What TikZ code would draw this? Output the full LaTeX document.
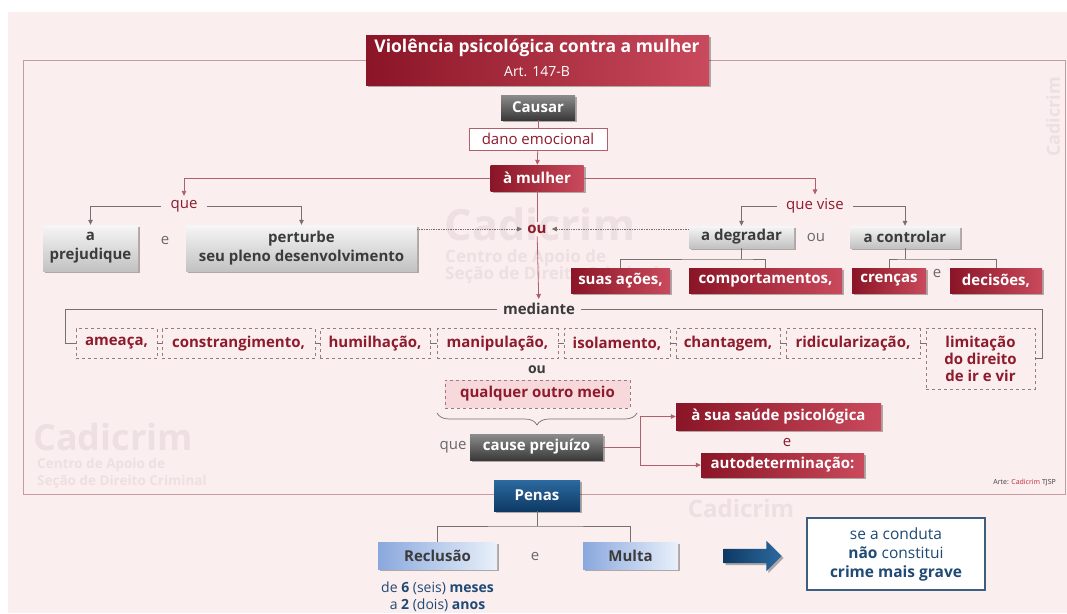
\documentclass[tikz,border=0pt]{standalone}
\usepackage{fontspec}
\setmainfont{Open Sans}
\usetikzlibrary{arrows.meta,shadows,shapes.arrows,decorations.pathreplacing}
\definecolor{bg}{HTML}{FBEEEF}
\definecolor{framec}{HTML}{C79A9F}
\definecolor{redD}{HTML}{8A1526}
\definecolor{redL}{HTML}{C94A5C}
\definecolor{redT}{HTML}{8E1B2C}
\definecolor{lnR}{HTML}{B0606B}
\definecolor{lnG}{HTML}{767070}
\definecolor{txtG}{HTML}{3B3B3B}
\definecolor{txtL}{HTML}{6A6A6A}
\definecolor{grayT}{HTML}{F6F6F6}
\definecolor{grayB}{HTML}{C2C2C2}
\definecolor{dkT}{HTML}{8C8C8C}
\definecolor{dkB}{HTML}{3A3A3A}
\definecolor{dashc}{HTML}{9A7A7E}
\definecolor{pinkF}{HTML}{F7D8DB}
\definecolor{blueT}{HTML}{2C6AA0}
\definecolor{blueB}{HTML}{0E3A64}
\definecolor{lblueL}{HTML}{8AA8DD}
\definecolor{lblueR}{HTML}{E9F0FA}
\definecolor{navy}{HTML}{1F4A75}
\definecolor{condB}{HTML}{3E5E80}
\definecolor{wm}{HTML}{EEE0E2}
\definecolor{arteR}{HTML}{C0283A}

\newcommand{\fz}[2]{\fontsize{#1}{#2}\selectfont}

\tikzset{
  shad/.style={drop shadow={shadow xshift=2pt,shadow yshift=-2pt,opacity=0.3,fill=black}},
  redbox/.style={shad,left color=redD,right color=redL,text=white,font=\fz{15}{18}\bfseries,inner sep=0pt},
  graybox/.style={shad,top color=grayT,bottom color=grayB,text=txtG,font=\fz{15}{19}\bfseries,inner sep=0pt,align=center},
  darkbox/.style={shad,top color=dkT,bottom color=dkB,text=white,font=\fz{15}{18}\bfseries,inner sep=0pt},
  dbox/.style={draw=dashc,dashed,fill=bg,text=redT,font=\fz{15}{17}\bfseries,inner sep=0pt,align=center},
  lbox/.style={shad,left color=lblueL,right color=lblueR,text=txtG,font=\fz{15}{18}\bfseries,inner sep=0pt},
  plain/.style={inner sep=1pt,text=txtG,font=\fz{15}{18}},
  lr/.style={draw=lnR,line width=0.8pt},
  lg/.style={draw=lnG,line width=0.7pt},
  tip/.style={-{Triangle[length=5pt,width=4.5pt]}},
  wmark/.style={text=wm,inner sep=0pt}
}

\begin{document}
\begin{tikzpicture}[x=1pt,y=-1pt]
\useasboundingbox (0,0) rectangle (1067,613);
\fill[white] (0,0) rectangle (1067,613);
\fill[bg] (8,12) rectangle (1067,613);

% watermarks
\node[wmark,font=\fz{43}{46}\bfseries] (wm1) at (540,224) {Cadicrim};
\node[wmark,anchor=west,font=\fz{17}{19}\bfseries] (wm1b) at (445,258) {Centro de Apoio de};
\node[wmark,anchor=west,font=\fz{17}{19}\bfseries] (wm1c) at (445,275) {Seção de Direito Criminal};
\node[wmark,anchor=west,font=\fz{36}{40}\bfseries] (wm2) at (33,437) {Cadicrim};
\node[wmark,anchor=west,font=\fz{13.5}{15}\bfseries] (wm2b) at (37,465) {Centro de Apoio de};
\node[wmark,anchor=west,font=\fz{13.5}{15}\bfseries] (wm2c) at (37,482) {Seção de Direito Criminal};
\node[wmark,font=\fz{24}{26}\bfseries] (wm3) at (741,508) {Cadicrim};
\node[wmark,rotate=90,font=\fz{18}{20}\bfseries] (wm4) at (1053,117) {Cadicrim};

% frame
\draw[framec,line width=1pt] (23,60) rectangle (1065,494);

% title
\node[shad,left color=redD,right color=redL,minimum width=343pt,minimum height=50pt,inner sep=0pt] (title) at (537.5,60) {};
\node[text=white,font=\fz{17.5}{20}\bfseries,inner sep=0pt] (titleA) at (537,48) {Violência psicológica contra a mulher};
\node[text=white,font=\fz{14}{16},inner sep=0pt] (titleB) at (537,72) {Art. 147-B};

% top column
\node[darkbox,minimum width=74pt,minimum height=25pt] (causar) at (538,107.5) {Causar};
\node[draw=lnR,fill=white,text=redT,font=\fz{15}{18},minimum width=138pt,minimum height=22pt,inner sep=0pt] (dano) at (538,139) {dano emocional};
\node[redbox,minimum width=93pt,minimum height=26pt] (mulher) at (537,178) {à mulher};
\draw[lr] (causar) -- (dano);
\draw[lr,tip] (dano) -- (mulher);

% left branch
\node[plain,text=redT,inner xsep=9pt,inner ysep=4pt] (que1) at (184,206) {que};
\node[graybox,minimum width=95pt,minimum height=46pt] (prej) at (90.5,248) {a\\prejudique};
\node[plain,text=txtL] (e1) at (165,240) {e};
\node[graybox,minimum width=231pt,minimum height=46pt] (pert) at (301.5,248) {perturbe\\seu pleno desenvolvimento};
\draw[lr,tip] (mulher.west) -| (que1.north);
\draw[lg,tip] (que1.west) -| (prej.north);
\draw[lg,tip] (que1.east) -| (pert.north);

% right branch
\node[plain,text=redT,inner xsep=9pt,inner ysep=4pt] (quev) at (815,206) {que vise};
\node[graybox,minimum width=105pt,minimum height=22pt] (degr) at (741.5,237) {a degradar};
\node[plain,text=txtL] (ou2) at (816,237) {ou};
\node[graybox,minimum width=110pt,minimum height=22pt] (ctrl) at (905,237) {a controlar};
\draw[lr,tip] (mulher.east) -| (quev.north);
\draw[lg,tip] (quev.west) -| (degr.north);
\draw[lg,tip] (quev.east) -| (ctrl.north);

% center ou
\node[plain,text=redT,font=\fz{15}{18}\bfseries,inner xsep=5pt,inner ysep=3pt] (ou1) at (537,229) {ou};
\draw[lg,densely dotted,tip] (ou1 -| pert.east) -- (ou1.west);
\draw[lg,densely dotted,tip] (ou1 -| degr.west) -- (ou1.east);
\draw[lr] (mulher) -- (ou1);

% red row
\node[redbox,minimum width=99pt,minimum height=25pt] (acoes) at (620.5,280.5) {suas ações,};
\node[redbox,minimum width=153pt,minimum height=25pt] (comp) at (765.5,280.5) {comportamentos,};
\node[redbox,minimum width=74pt,minimum height=25pt] (cren) at (889,280.5) {crenças};
\node[plain,text=txtL] (e2) at (937,273) {e};
\node[redbox,minimum width=92pt,minimum height=25pt] (deci) at (996,280.5) {decisões,};
\coordinate (j1) at (741.5,259);
\coordinate (j2) at (905,259);
\draw[lg] (degr.south) -- (j1);
\draw[lg] (acoes.north) |- (j1) -| (comp.north);
\draw[lg] (ctrl.south) -- (j2);
\draw[lg] (cren.north) |- (j2) -| (deci.north);

% mediante
\node[plain,font=\fz{15}{18}\bfseries,inner xsep=6pt,inner ysep=4pt] (med) at (539,309) {mediante};
\draw[lr,tip] (ou1) -- (med);

\node[dbox,minimum width=81pt,minimum height=30pt] (d1) at (116.5,343.5) {ameaça,};
\node[dbox,minimum width=153pt,minimum height=30pt] (d2) at (238.5,343.5) {constrangimento,};
\node[dbox,minimum width=110pt,minimum height=30pt] (d3) at (375,343.5) {humilhação,};
\node[dbox,minimum width=121pt,minimum height=30pt] (d4) at (497.5,343.5) {manipulação,};
\node[dbox,minimum width=106pt,minimum height=30pt] (d5) at (617,343.5) {isolamento,};
\node[dbox,minimum width=104pt,minimum height=30pt] (d6) at (728,343.5) {chantagem,};
\node[dbox,minimum width=134pt,minimum height=30pt] (d7) at (853,343.5) {ridicularização,};
\node[dbox,minimum width=109pt,minimum height=61pt] (d8) at (980.5,358.5) {limitação\\do direito\\de ir e vir};
\coordinate (mL) at (65,309);
\coordinate (mR) at (1042,309);
\draw[lg] (med.west) -- (mL) |- (d1.west);
\draw[lg] (med.east) -- (mR) |- (d8.east);
\draw[lg] (d1.east) -- (d2.west);
\draw[lg] (d2.east) -- (d3.west);
\draw[lg] (d3.east) -- (d4.west);
\draw[lg] (d4.east) -- (d5.west);
\draw[lg] (d5.east) -- (d6.west);
\draw[lg] (d6.east) -- (d7.west);
\draw[lg] (d7.east) -- (d7.east -| d8.west);

% qualquer outro meio
\node[plain,font=\fz{14}{16}\bfseries] (ou3) at (537,370) {ou};
\node[dbox,fill=pinkF,minimum width=185pt,minimum height=28pt] (qual) at (537.5,394) {qualquer outro meio};
\coordinate (brR) at (637,413);
\coordinate (brL) at (437,413);
\draw[lg,decorate,decoration={brace,amplitude=12pt}] (brR) -- (brL);

\node[plain,text=txtL] (que3) at (453,447) {que};
\node[darkbox,minimum width=133pt,minimum height=26pt] (cause) at (536.5,447) {cause prejuízo};
\node[redbox,minimum width=205pt,minimum height=27pt] (saude) at (778.5,416.5) {à sua saúde psicológica};
\node[plain,text=redT] (e3) at (787,442) {e};
\node[redbox,minimum width=163pt,minimum height=24pt] (auto) at (782.5,465) {autodeterminação:};
\coordinate (fk) at (640,447);
\draw[lr] (cause.east) -- (fk);
\draw[lr,tip] (fk) |- (saude.west);
\draw[lr,tip] (fk) |- (auto.west);

\node[anchor=east,font=\fz{7}{8},text=txtG,inner sep=0pt] (arte) at (1056,482) {Arte: \textcolor{arteR}{Cadicrim} TJSP};

% penas
\node[shad,top color=blueT,bottom color=blueB,text=white,font=\fz{15}{18}\bfseries,minimum width=86pt,minimum height=31pt,inner sep=0pt] (penas) at (537,495.5) {Penas};
\node[lbox,minimum width=119pt,minimum height=27pt] (recl) at (437.5,555.5) {Reclusão};
\node[plain,text=txtL] (e4) at (535,556) {e};
\node[lbox,minimum width=95pt,minimum height=27pt] (multa) at (630.5,555.5) {Multa};
\coordinate (pj) at (537,526);
\draw[lg] (penas.south) -- (pj);
\draw[lg] (recl.north) |- (pj) -| (multa.north);
\node[text=navy,font=\fz{14}{16},inner sep=0pt] (pz1) at (437.5,588) {de \textbf{6} (seis) \textbf{meses}};
\node[text=navy,font=\fz{14}{16},inner sep=0pt] (pz2) at (437.5,605) {a \textbf{2} (dois) \textbf{anos}};

\node[single arrow,shad,left color=blueB,right color=blueT,minimum height=58pt,minimum width=30pt,single arrow head extend=8pt,inner xsep=0pt,inner ysep=7pt,font=\fz{1}{1}] (barrow) at (749,556) {};

\node[draw=condB,line width=1.2pt,fill=white,text=navy,font=\fz{15.5}{19},align=center,minimum width=178pt,minimum height=72pt,inner sep=0pt] (cond) at (896,554) {se a conduta\\\textbf{não} constitui\\\textbf{crime mais grave}};
\end{tikzpicture}
\end{document}
